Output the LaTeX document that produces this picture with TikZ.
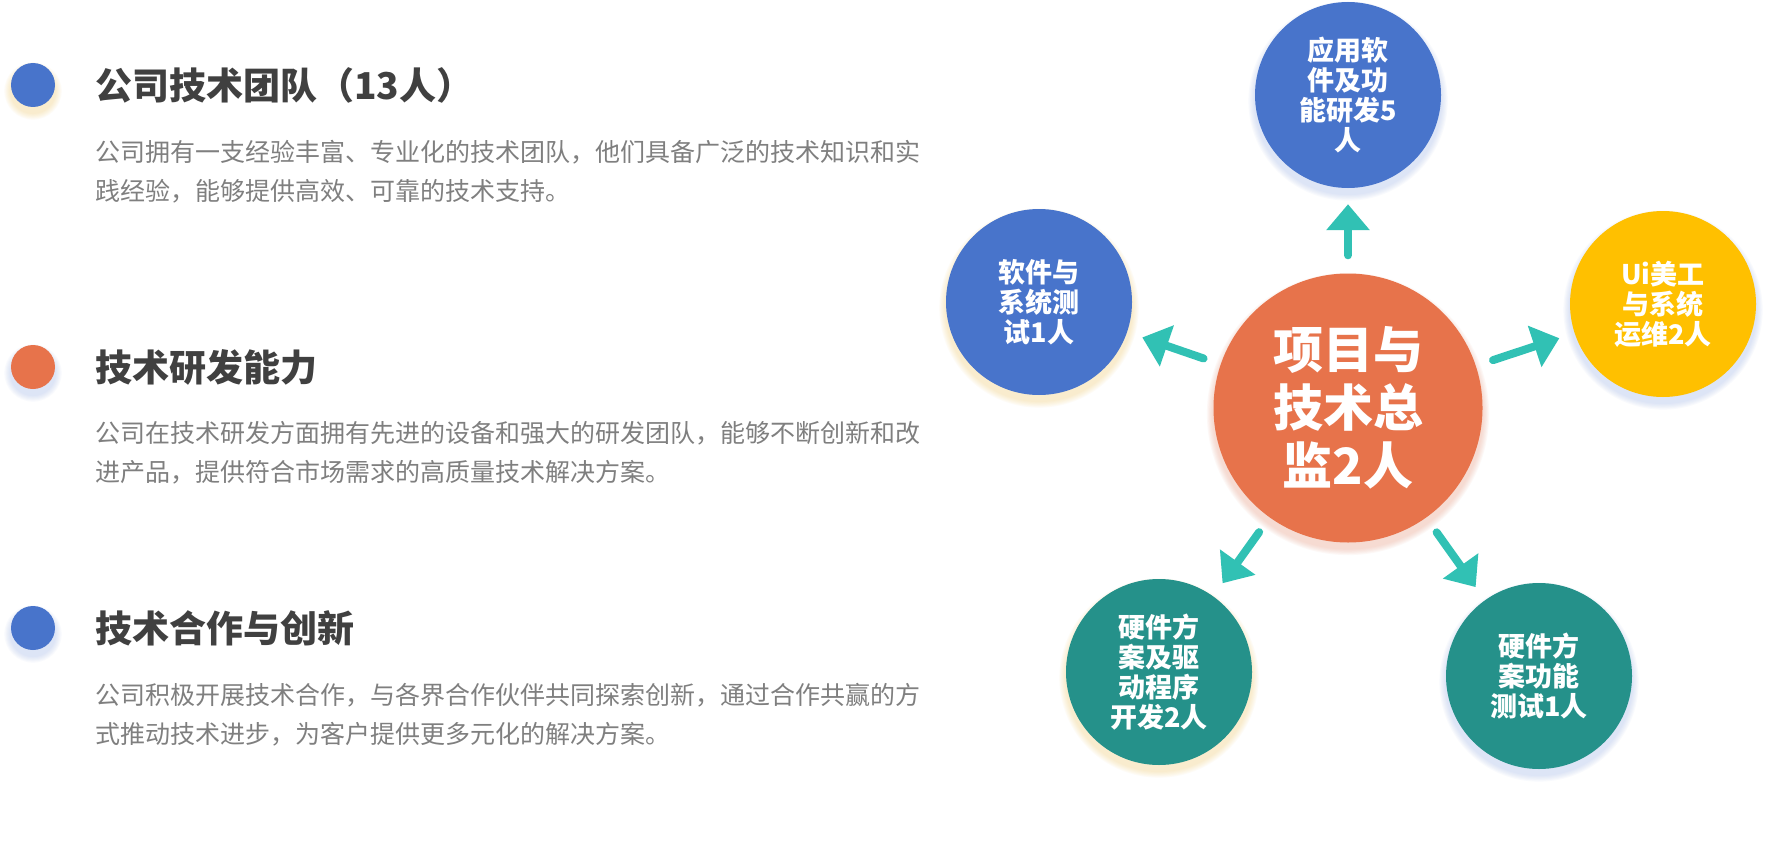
\documentclass[tikz,border=0pt]{standalone}
\usepackage{fontspec}
\setmainfont{Noto Sans CJK SC}
\usetikzlibrary{arrows.meta}
\definecolor{cblue}{HTML}{4874CB}
\definecolor{corange}{HTML}{E7734B}
\definecolor{cyellow}{HTML}{FFC000}
\definecolor{cteal}{HTML}{25918A}
\definecolor{carrow}{HTML}{31C1B4}
\definecolor{ctitle}{HTML}{404040}
\definecolor{cbody}{HTML}{7F7F7F}
\definecolor{shblue}{HTML}{A9BDEB}
\definecolor{shyellow}{HTML}{F5D27F}
\definecolor{shred}{HTML}{EBA088}
\newcommand{\myglow}[3]{\foreach \k in {1,...,6}{\fill[#3,opacity=0.07] ([yshift=-6pt]#1) circle[radius={#2+\k*1.1}];}}
\tikzset{
 satnode/.style={circle, inner sep=0pt, minimum size=186pt, text=white, align=center, font=\bfseries\fontsize{27pt}{30pt}\selectfont},
 hubnode/.style={circle, fill=corange, inner sep=0pt, minimum size=269pt, text=white, align=center, font=\bfseries\fontsize{50pt}{58pt}\selectfont},
 bullet/.style={circle, inner sep=0pt, minimum size=44pt},
 sectitle/.style={anchor=west, inner sep=0pt, text=ctitle, font=\bfseries\fontsize{37pt}{44pt}\selectfont},
 secbody/.style={anchor=west, inner sep=0pt, text=cbody, align=left, font=\fontsize{25pt}{39pt}\selectfont},
 arr/.style={draw=carrow, line width=8pt, line cap=round, -{Triangle[length=26pt,width=42pt]}, shorten <=18pt, shorten >=16pt},
}
\begin{document}
\begin{tikzpicture}[x=1pt,y=-1pt]
\useasboundingbox[fill=white] (0,0) rectangle (1768,848);
% positions
\coordinate (pc) at (1348,408);
\coordinate (pt) at (1348,95);
\coordinate (pl) at (1039,302);
\coordinate (pr) at (1663,304);
\coordinate (pbl) at (1159,672);
\coordinate (pbr) at (1539,676);
\coordinate (pd1) at (33,85);
\coordinate (pd2) at (33,367);
\coordinate (pd3) at (33,628);
% glows
\myglow{pc}{134.5}{shred}
\myglow{pt}{93}{shblue}
\myglow{pl}{93}{shyellow}
\myglow{pr}{93}{shblue}
\myglow{pbl}{93}{shyellow}
\myglow{pbr}{93}{shblue}
\myglow{pd1}{22}{shyellow}
\myglow{pd2}{22}{shblue}
\myglow{pd3}{22}{shblue}
% left column
\node[bullet, fill=cblue] (d1) at (pd1) {};
\node[bullet, fill=corange] (d2) at (pd2) {};
\node[bullet, fill=cblue] (d3) at (pd3) {};
\node[sectitle] (t1) at (95,85) {公司技术团队（13人）};
\node[sectitle] (t2) at (95,367) {技术研发能力};
\node[sectitle] (t3) at (95,628) {技术合作与创新};
\node[secbody] (b1) at (95,171.5) {公司拥有一支经验丰富、专业化的技术团队，他们具备广泛的技术知识和实\\践经验，能够提供高效、可靠的技术支持。};
\node[secbody] (b2) at (95,452.5) {公司在技术研发方面拥有先进的设备和强大的研发团队，能够不断创新和改\\进产品，提供符合市场需求的高质量技术解决方案。};
\node[secbody] (b3) at (95,715) {公司积极开展技术合作，与各界合作伙伴共同探索创新，通过合作共赢的方\\式推动技术进步，为客户提供更多元化的解决方案。};
% diagram
\node[hubnode] (c) at (pc) {项目与\\技术总\\监2人};
\node[satnode, fill=cblue] (t) at (pt) {应用软\\件及功\\能研发5\\人};
\node[satnode, fill=cblue] (l) at (pl) {软件与\\系统测\\试1人};
\node[satnode, fill=cyellow] (r) at (pr) {Ui美工\\与系统\\运维2人};
\node[satnode, fill=cteal] (bl) at (pbl) {硬件方\\案及驱\\动程序\\开发2人};
\node[satnode, fill=cteal] (br) at (pbr) {硬件方\\案功能\\测试1人};
\draw[arr] (c) -- (t);
\draw[arr] (c) -- (l);
\draw[arr] (c) -- (r);
\draw[arr] (c) -- (bl);
\draw[arr] (c) -- (br);
\end{tikzpicture}
\end{document}
